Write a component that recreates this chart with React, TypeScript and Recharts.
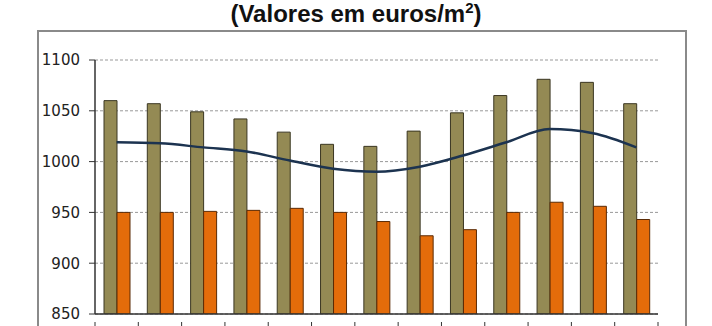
import { ComposedChart, Bar, Line, XAxis, YAxis, CartesianGrid } from 'recharts';

// one group per period (labels are cut off in the source picture)
const CATEGORIES = ['1', '2', '3', '4', '5', '6', '7', '8', '9', '10', '11', '12', '13'];
const OLIVE_VALUES = [1060, 1057, 1049, 1042, 1029, 1017, 1015, 1030, 1048, 1065, 1081, 1078, 1057];
const ORANGE_VALUES = [950, 950, 951, 952, 954, 950, 941, 927, 933, 950, 960, 956, 943];
const LINE_VALUES = [1019, 1018, 1014, 1010, 1001, 993, 990, 995, 1006, 1019, 1032, 1028, 1014];
const Y_TICKS = [850, 900, 950, 1000, 1050, 1100];

const chartData = CATEGORIES.map((name, i) => ({
  name,
  olive: OLIVE_VALUES[i],
  orange: ORANGE_VALUES[i],
  avg: LINE_VALUES[i],
}));

const BAND = (658 - 95) / CATEGORIES.length;

// tick marks sit on the category boundaries, not the centres
function BoundaryTick(props: any) {
  const { x, y, index } = props;
  const left = x - BAND / 2;
  return (
    <g>
      <line x1={left} y1={y} x2={left} y2={y + 5} stroke="#333" strokeWidth={1} />
      {index === CATEGORIES.length - 1 && (
        <line x1={x + BAND / 2} y1={y} x2={x + BAND / 2} y2={y + 5} stroke="#333" strokeWidth={1} />
      )}
    </g>
  );
}

export default function App() {
  return (
    <div
      style={{
        position: 'absolute',
        left: 0,
        top: 0,
        width: 712,
        height: 326,
        overflow: 'hidden',
        background: '#fff',
      }}
    >
      <div
        style={{
          position: 'absolute',
          left: 0,
          top: -1,
          width: 712,
          textAlign: 'center',
          fontFamily: '"Liberation Sans", Arial, sans-serif',
          fontWeight: 'bold',
          fontSize: 24,
          color: '#111',
        }}
      >
        (Valores em euros/m<sup style={{ fontSize: 15 }}>2</sup>)
      </div>
      <div
        style={{
          position: 'absolute',
          left: 37,
          top: 30,
          width: 646,
          height: 320,
          border: '2px solid #8a8a8a',
        }}
      />
      <div style={{ position: 'absolute', left: 0, top: 0 }}>
        <ComposedChart
          width={712}
          height={326}
          data={chartData}
          margin={{ top: 60, right: 54, left: 0, bottom: 0 }}
          barGap={0}
        >
          <CartesianGrid vertical={false} stroke="#999" strokeDasharray="3 2" />
          <XAxis
            dataKey="name"
            height={12}
            tickLine={false}
            axisLine={{ stroke: '#333', strokeWidth: 1.5 }}
            tick={<BoundaryTick />}
            interval={0}
          />
          <YAxis
            width={95}
            domain={[850, 1100]}
            ticks={Y_TICKS}
            allowDataOverflow
            tickSize={6}
            tickMargin={9}
            axisLine={{ stroke: '#333', strokeWidth: 1.5 }}
            tickLine={{ stroke: '#333' }}
            tick={{ fill: '#222', fontSize: 15, fontFamily: '"DejaVu Sans", sans-serif' }}
          />
          <Bar dataKey="olive" fill="#948a54" stroke="#3a3622" strokeWidth={1} barSize={13} isAnimationActive={false} />
          <Bar dataKey="orange" fill="#e46c0a" stroke="#5a2a05" strokeWidth={1} barSize={13} isAnimationActive={false} />
          <Line
            type="monotone"
            dataKey="avg"
            stroke="#1c3350"
            strokeWidth={2.5}
            dot={false}
            isAnimationActive={false}
          />
        </ComposedChart>
      </div>
    </div>
  );
}
